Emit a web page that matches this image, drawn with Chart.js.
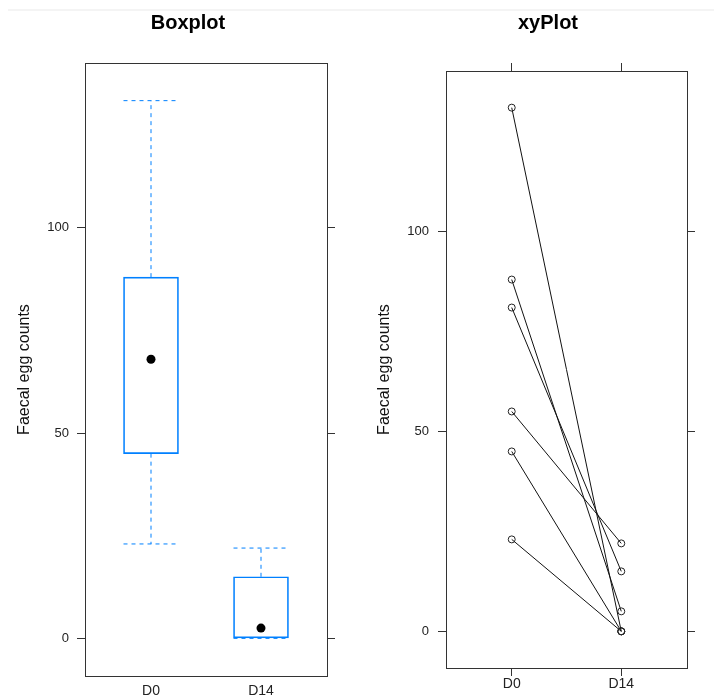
<!DOCTYPE html>
<html>
<head>
<meta charset="utf-8">
<title>Faecal egg counts</title>
<script src="https://cdn.jsdelivr.net/npm/chart.js@4.4.1/dist/chart.umd.min.js"></script>
<style>
  html, body { margin: 0; padding: 0; background: #fff; overflow: hidden; }
  body { width: 714px; height: 696px; position: relative; }
  .topline { position: absolute; left: 8px; top: 9px; width: 706px; height: 2px; background: #f4f4f4; }
  .panel { position: absolute; top: 0; width: 376px; height: 696px; }
  #leftPanel { left: 0; }
  #rightPanel { left: 360px; }
</style>
</head>
<body>
<div class="topline"></div>
<div class="panel" id="leftPanel"><canvas id="boxChart" width="376" height="696"></canvas></div>
<div class="panel" id="rightPanel"><canvas id="xyChart" width="376" height="696"></canvas></div>

<script>
// Data: one value per animal, same order on both days
const categories = ["D0", "D14"];
const d0Counts = [131, 88, 81, 55, 45, 23];
const d14Counts = [0, 5, 15, 22, 0, 0];
const yTicks = [0, 50, 100];

const BLUE = "#0080ff";
const FRAME = "#333";
const TEXT = "#222";
Chart.defaults.font.family = "'Liberation Sans', Arial, sans-serif";
Chart.defaults.animation = false;

// Tukey five number summary (like R's fivenum)
function fivenum(values) {
  const s = [...values].sort((a, b) => a - b);
  const n = s.length;
  const n4 = Math.floor((n + 3) / 2) / 2;
  const d = [1, n4, (n + 1) / 2, n + 1 - n4, n];
  return d.map((i) => 0.5 * (s[Math.floor(i) - 1] + s[Math.ceil(i) - 1]));
}

function boxStats(values) {
  const [, q1, median, q3] = fivenum(values);
  const iqr = q3 - q1;
  const inside = values.filter((v) => v >= q1 - 1.5 * iqr && v <= q3 + 1.5 * iqr);
  return { lo: Math.min(...inside), q1, median, q3, hi: Math.max(...inside) };
}

const stats = [boxStats(d0Counts), boxStats(d14Counts)];

// lattice style ranges: 7% padding on y, 0.6 on each side of the factor axis
const allCounts = d0Counts.concat(d14Counts);
const lo = Math.min(...allCounts);
const hi = Math.max(...allCounts);
const yMin = lo - 0.07 * (hi - lo);
const yMax = hi + 0.07 * (hi - lo);
const xMin = 0.4;
const xMax = categories.length + 0.6;
const BOX_HALF = 0.25;

function setTicks(values) {
  return (scale) => {
    scale.ticks = values.map((v) => ({ value: v }));
  };
}

function buildScales(o) {
  return {
    x: {
      type: "linear", position: "bottom", min: xMin, max: xMax, offset: false,
      afterBuildTicks: setTicks(categories.map((c, i) => i + 1)),
      afterFit: (s) => { s.height = o.bottomHeight; },
      ticks: {
        callback: (v) => categories[v - 1], font: { size: 14 }, color: TEXT,
        padding: o.bottomPadding, maxRotation: 0, autoSkip: false,
      },
      grid: { drawOnChartArea: false, drawTicks: o.xTicks, tickLength: 8, color: FRAME, offset: false },
      border: { color: FRAME, width: 1 },
    },
    x2: {
      type: "linear", axis: "x", position: "top", min: xMin, max: xMax, offset: false,
      afterBuildTicks: setTicks(categories.map((c, i) => i + 1)),
      afterFit: (s) => { s.height = o.xTicks ? 8 : 0; },
      ticks: { display: false },
      grid: { drawOnChartArea: false, drawTicks: o.xTicks, tickLength: 8, color: FRAME, offset: false },
      border: { color: FRAME, width: 1 },
    },
    y: {
      type: "linear", position: "left", min: yMin, max: yMax,
      afterBuildTicks: setTicks(yTicks),
      afterFit: (s) => { s.width = o.leftWidth; },
      ticks: { font: { size: 13 }, color: TEXT, padding: o.leftPadding },
      grid: { drawOnChartArea: false, tickLength: 8, color: FRAME },
      border: { color: FRAME, width: 1 },
      title: {
        display: true, text: "Faecal egg counts", font: { size: 16 }, color: "#111",
        padding: { top: 15, bottom: 0 },
      },
    },
    y2: {
      type: "linear", axis: "y", position: "right", min: yMin, max: yMax,
      afterBuildTicks: setTicks(yTicks),
      afterFit: (s) => { s.width = 49; },
      ticks: { display: false },
      grid: { drawOnChartArea: false, tickLength: 8, color: FRAME },
      border: { color: FRAME, width: 1 },
    },
  };
}

function titleOptions(text) {
  return {
    display: true, text: text, color: "#000",
    font: { size: 20, weight: "bold" },
    padding: { top: 11, bottom: 28 },
  };
}

// Boxplot panel
function initializeBoxChart() {
  const dashed = { type: "line", borderColor: BLUE, borderWidth: 1, borderDash: [4, 4], pointRadius: 0, fill: false };
  const whiskers = [];
  stats.forEach((s, i) => {
    const x = i + 1;
    whiskers.push({ ...dashed, data: [{ x: x, y: s.q3 }, { x: x, y: s.hi }] });
    whiskers.push({ ...dashed, data: [{ x: x, y: s.q1 }, { x: x, y: s.lo }] });
    whiskers.push({ ...dashed, data: [{ x: x - BOX_HALF, y: s.hi }, { x: x + BOX_HALF, y: s.hi }] });
    whiskers.push({ ...dashed, data: [{ x: x - BOX_HALF, y: s.lo }, { x: x + BOX_HALF, y: s.lo }] });
  });

  const ctx = document.getElementById("boxChart").getContext("2d");
  new Chart(ctx, {
    type: "bar",
    data: {
      datasets: [
        {
          type: "scatter",
          data: stats.map((s, i) => ({ x: i + 1, y: s.median })),
          pointRadius: 4.5, backgroundColor: "#000", borderColor: "#000", borderWidth: 0,
        },
        {
          type: "bar",
          data: stats.map((s, i) => ({ x: i + 1, y: [s.q1, s.q3] })),
          backgroundColor: "rgba(0,0,0,0)", borderColor: BLUE, borderWidth: 1,
          borderSkipped: false, barThickness: 55,
        },
        ...whiskers,
      ],
    },
    options: {
      responsive: false,
      layout: { padding: 0 },
      plugins: { legend: { display: false }, tooltip: { enabled: false }, title: titleOptions("Boxplot") },
      scales: buildScales({ bottomHeight: 20, bottomPadding: 7, xTicks: false, leftWidth: 85, leftPadding: 8 }),
    },
  });
}

// Paired xy panel, one line per animal
function initializeXYChart() {
  const datasets = d0Counts.map((v, i) => ({
    data: [{ x: 1, y: v }, { x: 2, y: d14Counts[i] }],
    borderColor: "#111", borderWidth: 1,
    pointRadius: 3.5, pointBorderColor: "#222", pointBorderWidth: 1,
    pointBackgroundColor: "rgba(0,0,0,0)", fill: false, tension: 0,
  }));

  const ctx = document.getElementById("xyChart").getContext("2d");
  new Chart(ctx, {
    type: "line",
    data: { datasets: datasets },
    options: {
      responsive: false,
      layout: { padding: 0 },
      plugins: { legend: { display: false }, tooltip: { enabled: false }, title: titleOptions("xyPlot") },
      scales: buildScales({ bottomHeight: 28, bottomPadding: 0, xTicks: true, leftWidth: 86, leftPadding: 9 }),
    },
  });
}

document.addEventListener("DOMContentLoaded", () => {
  initializeBoxChart();
  initializeXYChart();
});
</script>
</body>
</html>
